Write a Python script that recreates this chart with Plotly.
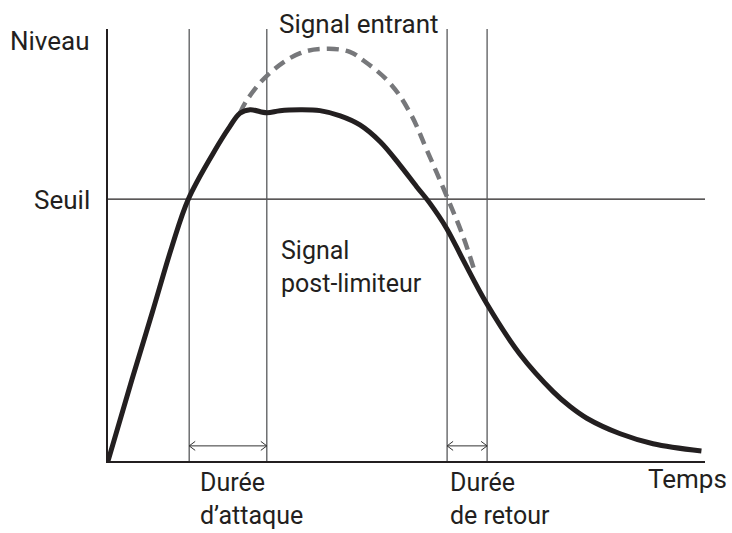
import plotly.graph_objects as go

# Output level of the limiter over time (time and level in arbitrary units, 0-100)
time_out = [0, 4.0, 7.4, 10.7, 13.45, 17.6, 20.4, 22.1, 23.8, 26.6, 28.8, 32.2, 35.5,
            38.9, 42.2, 45.6, 48.9, 51.7, 53.9, 56.7, 59.5, 63.4, 69.0, 74.6, 77.4,
            80.2, 85.8, 91.3, 99.4]
level_out = [0, 18.8, 34.3, 49.6, 60.6, 71.2, 77.4, 80.5, 81.3, 80.6, 81.1, 81.3, 81.1,
             79.9, 77.8, 73.9, 68.5, 63.5, 59.7, 53.9, 46.5, 36.5, 24.7, 16.0, 12.6,
             9.9, 6.3, 4.0, 2.3]

# Incoming signal where it rises above the limited output
time_in = [22.1, 23.3, 27.1, 32.2, 36.7, 40.5, 42.7, 47.2, 50.6, 53.4, 56.8, 59.5, 61.5]
level_in = [80.5, 83.6, 89.8, 94.4, 95.4, 94.7, 92.8, 87.5, 80.6, 72.0, 61.1, 51.9, 43.5]

threshold = 60.6
attack_span = [13.6, 26.6]
release_span = [56.8, 63.5]
arrow_level = 3.5

INK = "#231f20"
FONT = "Roboto"

fig = go.Figure()

# Threshold line and time markers
fig.add_shape(type="line", x0=0, x1=100, y0=threshold, y1=threshold,
              line=dict(color=INK, width=1.2), layer="below")
for xv in attack_span + release_span:
    fig.add_shape(type="line", x0=xv, x1=xv, y0=0, y1=100,
                  line=dict(color="#58595b", width=1.3), layer="below")

# Double-headed span arrows (shaft + open chevrons)
px_x = 597 / 100.0  # pixels per time unit
px_y = 432 / 100.0  # pixels per level unit
head_dx = 6 / px_x
head_dy = 4.5 / px_y
for a, b in (attack_span, release_span):
    xs = [a, b, None,
          a + head_dx, a, a + head_dx, None,
          b - head_dx, b, b - head_dx]
    ys = [arrow_level, arrow_level, None,
          arrow_level + head_dy, arrow_level, arrow_level - head_dy, None,
          arrow_level + head_dy, arrow_level, arrow_level - head_dy]
    fig.add_trace(go.Scatter(x=xs, y=ys, mode="lines",
                             line=dict(color="#333333", width=1),
                             hoverinfo="skip", showlegend=False))

fig.add_trace(go.Scatter(x=time_in, y=level_in, mode="lines",
                         line=dict(color="#77787b", width=4.5, dash="12px,7px",
                                   shape="spline", smoothing=1.1),
                         hoverinfo="skip", showlegend=False))
fig.add_trace(go.Scatter(x=time_out, y=level_out, mode="lines",
                         line=dict(color=INK, width=5, shape="spline", smoothing=1.0),
                         hoverinfo="skip", showlegend=False))


def px_to_paper_x(px):
    return (px - 108) / 597.0


def px_to_paper_y(py):
    return (461 - py) / 432.0


def label(text, x, y, xanchor, yanchor="middle", size=26):
    fig.add_annotation(text=text, x=px_to_paper_x(x), y=px_to_paper_y(y),
                       xref="paper", yref="paper",
                       xanchor=xanchor, yanchor=yanchor, align="left",
                       showarrow=False, font=dict(family=FONT, size=size, color=INK))


label("Niveau", 92, 41, "right")
label("Seuil", 92, 199.5, "right")
label("Signal entrant", 358.5, 23.5, "center")
label("Signal<br>post-limiteur", 279, 234, "left", "top", 25)
label("Durée<br>d’attaque", 198, 532, "left", "bottom", 25)
label("Durée<br>de retour", 448, 532, "left", "bottom", 25)
label("Temps", 646, 479, "left")

axis_common = dict(range=[0, 100], showline=True, linecolor=INK, linewidth=2,
                   showgrid=False, zeroline=False, showticklabels=False, ticks="",
                   fixedrange=True)
fig.update_layout(
    width=732, height=533,
    margin=dict(l=108, r=27, t=29, b=72),
    paper_bgcolor="white", plot_bgcolor="white",
    xaxis=axis_common, yaxis=axis_common,
    hovermode=False,
)

fig.write_html("out.html", config={"displayModeBar": False})
